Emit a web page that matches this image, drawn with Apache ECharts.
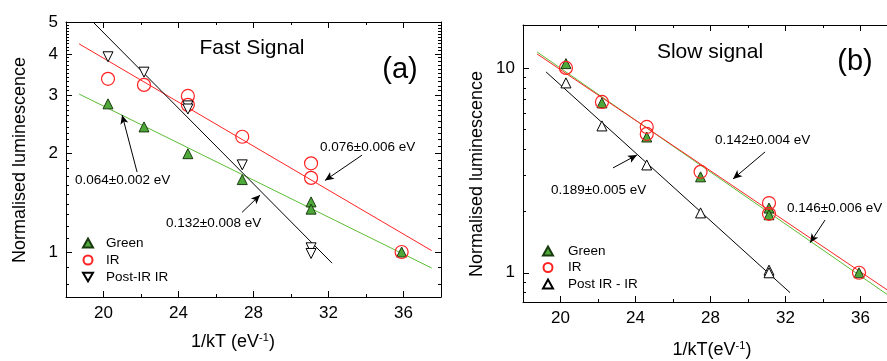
<!DOCTYPE html>
<html>
<head>
<meta charset="utf-8">
<script src="https://cdn.jsdelivr.net/npm/echarts@6/dist/echarts.min.js"></script>
<style>
html,body{margin:0;padding:0;background:#fff;}
#chart{width:887px;height:361px;}
</style>
</head>
<body>
<div id="chart"></div>
<script>
// ---------- tick values ----------
const xTicksMajor = [20, 24, 28, 32, 36];
const xTicksMinor = [18, 22, 26, 30, 34, 38];
const yTicksA = [1, 2, 3, 4, 5];
const yMinorA = [0.8, 0.9, 1.1, 1.2, 1.3, 1.4, 1.5, 1.6, 1.7, 1.8, 1.9,
  2.1, 2.2, 2.3, 2.4, 2.5, 2.6, 2.7, 2.8, 2.9,
  3.1, 3.2, 3.3, 3.4, 3.5, 3.6, 3.7, 3.8, 3.9,
  4.1, 4.2, 4.3, 4.4, 4.5, 4.6, 4.7, 4.8, 4.9];
const yTicksB = [1, 10];
const yMinorB = [0.8, 0.9, 2, 3, 4, 5, 6, 7, 8, 9];

// ---------- panel (a): Fast signal ----------
const aGreen = [[20.24, 2.82], [22.16, 2.40], [24.5, 1.99], [27.4, 1.66], [31.07, 1.42], [31.07, 1.35], [35.9, 1.0]];
const aIR = [[20.24, 3.36], [22.16, 3.22], [24.5, 2.98], [24.5, 2.80], [27.4, 2.24], [31.07, 1.86], [31.07, 1.68], [35.9, 1.0]];
const aPostIR = [[20.24, 3.92], [22.16, 3.52], [24.5, 2.78], [24.5, 2.72], [27.4, 1.84], [31.07, 1.03], [31.07, 0.99]];
const aFitGreen = [[18.7, 3.02], [37.5, 0.894]];
const aFitIR = [[18.7, 4.29], [37.5, 1.01]];
const aFitPost = [[19.44, 5.0], [32.19, 0.925]];

// ---------- panel (b): Slow signal ----------
const bGreen = [[20.29, 10.5], [22.21, 6.75], [24.6, 4.6], [27.47, 2.94], [31.12, 2.07], [31.12, 1.92], [35.92, 1.0]];
const bIR = [[20.29, 10.0], [22.21, 6.82], [24.6, 5.15], [24.6, 4.76], [27.47, 3.11], [31.12, 2.19], [31.12, 1.94], [35.92, 1.0]];
const bPostIR = [[20.29, 8.45], [22.21, 5.21], [24.6, 3.36], [27.47, 1.96], [31.12, 1.03], [31.12, 1.0]];
const bFitGreen = [[18.75, 11.97], [38.0, 0.72]];
const bFitIR = [[18.75, 11.7], [38.0, 0.76]];
const bFitPost = [[19.23, 9.56], [32.24, 0.80]];

// ---------- annotation arrows (data coords: tail, head) ----------
const aArrows = [
  [[21.79, 1.75], [20.99, 2.61]],
  [[33.79, 1.97], [31.81, 1.65]],
  [[27.39, 1.32], [28.35, 1.49]]
];
const bArrows = [
  [[30.91, 3.89], [29.2, 2.87]],
  [[22.8, 3.25], [24.08, 3.76]],
  [[34.11, 1.81], [33.31, 1.40]]
];

const FONT = 'Liberation Sans, Arial, sans-serif';
const RED = '#ff2222';
const GREEN_LINE = '#5cbd35';
const GREEN_FILL = '#4ea93a';

const chart = echarts.init(document.getElementById('chart'));

const grids = [
  {left: 66, top: 22, width: 375, height: 275},
  {left: 523, top: 25, width: 375, height: 277}
];
const yRange = [[0.73, 5], [0.72, 16.2]];
const yMajor = [yTicksA, yTicksB];
const yMinor = [yMinorA, yMinorB];

const xAxes = [], yAxes = [];
grids.forEach((g, gi) => {
  const base = {gridIndex: gi, type: 'value', min: 18, max: 38, splitLine: {show: false}, minorTick: {show: false}};
  xAxes.push(Object.assign({}, base, {
    position: 'bottom',
    axisLine: {show: true, onZero: false, lineStyle: {color: '#000', width: 1}},
    axisTick: {show: true, inside: true, length: 6, customValues: xTicksMajor, lineStyle: {color: '#000'}},
    axisLabel: {show: true, customValues: xTicksMajor, color: '#000', fontSize: 17, fontFamily: FONT, margin: 8}
  }));
  xAxes.push(Object.assign({}, base, {
    position: 'bottom',
    axisLine: {show: false, onZero: false},
    axisTick: {show: true, inside: true, length: 3, customValues: xTicksMinor, lineStyle: {color: '#000'}},
    axisLabel: {show: false}
  }));
  xAxes.push(Object.assign({}, base, {
    position: 'top',
    axisLine: {show: true, onZero: false, lineStyle: {color: '#000', width: 1}},
    axisTick: {show: true, inside: true, length: 6, customValues: xTicksMajor, lineStyle: {color: '#000'}},
    axisLabel: {show: false}
  }));
  xAxes.push(Object.assign({}, base, {
    position: 'top',
    axisLine: {show: false, onZero: false},
    axisTick: {show: true, inside: true, length: 3, customValues: xTicksMinor, lineStyle: {color: '#000'}},
    axisLabel: {show: false}
  }));

  const ybase = {gridIndex: gi, type: 'log', logBase: 10, min: yRange[gi][0], max: yRange[gi][1], splitLine: {show: false}, minorTick: {show: false}};
  yAxes.push(Object.assign({}, ybase, {
    position: 'left',
    axisLine: {show: true, onZero: false, lineStyle: {color: '#000', width: 1}},
    axisTick: {show: true, inside: true, length: 6, customValues: yMajor[gi], lineStyle: {color: '#000'}},
    axisLabel: {show: true, customValues: yMajor[gi], color: '#000', fontSize: 17, fontFamily: FONT, margin: 8}
  }));
  yAxes.push(Object.assign({}, ybase, {
    position: 'left',
    axisLine: {show: false, onZero: false},
    axisTick: {show: true, inside: true, length: 3, customValues: yMinor[gi], lineStyle: {color: '#000'}},
    axisLabel: {show: false}
  }));
  yAxes.push(Object.assign({}, ybase, {
    position: 'right',
    axisLine: {show: true, onZero: false, lineStyle: {color: '#000', width: 1}},
    axisTick: {show: true, inside: true, length: 6, customValues: yMajor[gi], lineStyle: {color: '#000'}},
    axisLabel: {show: false}
  }));
  yAxes.push(Object.assign({}, ybase, {
    position: 'right',
    axisLine: {show: false, onZero: false},
    axisTick: {show: true, inside: true, length: 3, customValues: yMinor[gi], lineStyle: {color: '#000'}},
    axisLabel: {show: false}
  }));
});

function fitLine(data, gi, color) {
  return {
    type: 'line', xAxisIndex: gi * 4, yAxisIndex: gi * 4, data: data,
    symbol: 'none', silent: true, z: 2, clip: true,
    lineStyle: {color: color, width: 1}
  };
}
function arrowSeries(arrows, gi) {
  return {
    type: 'line', xAxisIndex: gi * 4, yAxisIndex: gi * 4, data: [], silent: true, z: 3,
    markLine: {
      silent: true, symbol: ['none', 'arrow'], symbolSize: [6, 9],
      label: {show: false},
      lineStyle: {color: '#000', width: 1, type: 'solid'},
      emphasis: {disabled: true},
      data: arrows.map(a => [{coord: a[0]}, {coord: a[1]}])
    }
  };
}
function scatter(name, data, gi, sym, opts) {
  return Object.assign({
    type: 'scatter', name: name, xAxisIndex: gi * 4, yAxisIndex: gi * 4, data: data,
    symbol: sym, z: 5
  }, opts);
}

const greenStyle = {symbolSize: 10, itemStyle: {color: GREEN_FILL, borderColor: '#1a3a10', borderWidth: 1, opacity: 1}};
const irStyle = {symbolSize: 13, itemStyle: {color: 'rgba(255,255,255,0)', borderColor: RED, borderWidth: 1.2, opacity: 1}};
const postStyleA = {symbolSize: 10, symbolRotate: 180, itemStyle: {color: '#fff', borderColor: '#000', borderWidth: 1, opacity: 1}};
const postStyleB = {symbolSize: 10, itemStyle: {color: '#fff', borderColor: '#000', borderWidth: 1, opacity: 1}};

const series = [
  fitLine(aFitGreen, 0, GREEN_LINE),
  fitLine(aFitIR, 0, RED),
  fitLine(aFitPost, 0, '#000'),
  arrowSeries(aArrows, 0),
  scatter('Green', aGreen, 0, 'triangle', greenStyle),
  scatter('IR', aIR, 0, 'circle', irStyle),
  scatter('Post-IR IR', aPostIR, 0, 'triangle', postStyleA),

  fitLine(bFitGreen, 1, GREEN_LINE),
  fitLine(bFitIR, 1, RED),
  fitLine(bFitPost, 1, '#000'),
  arrowSeries(bArrows, 1),
  scatter('Green ', bGreen, 1, 'triangle', greenStyle),
  scatter('IR ', bIR, 1, 'circle', irStyle),
  scatter('Post IR - IR', bPostIR, 1, 'triangle', postStyleB)
];

const legendCommon = {
  orient: 'vertical', itemWidth: 10, itemHeight: 9, itemGap: 1, padding: 0,
  selectedMode: false,
  textStyle: {color: '#000', fontSize: 13.5, lineHeight: 16, fontFamily: FONT, padding: [0, 0, 0, 8]}
};

chart.setOption({
  animation: false,
  backgroundColor: '#fff',
  grid: grids.map(g => Object.assign({containLabel: false, outerBoundsMode: 'none'}, g)),
  xAxis: xAxes,
  yAxis: yAxes,
  legend: [
    Object.assign({}, legendCommon, {left: 82, top: 235, data: ['Green', {name: 'IR', icon: 'circle'},
      {name: 'Post-IR IR', icon: 'path://M0,0 L10,0 L5,8.66 Z'}]}),
    Object.assign({}, legendCommon, {left: 542, top: 243, itemGap: 0.5, data: ['Green ', 'IR ', 'Post IR - IR'],
      formatter: n => n.trim(), textStyle: Object.assign({}, legendCommon.textStyle, {padding: [0, 0, 0, 10]})})
  ],
  series: series,
  graphic: [
    {type: 'text', x: 252, y: 48, style: {text: 'Fast Signal', fontSize: 21, fontFamily: FONT, fill: '#000', align: 'center', verticalAlign: 'middle'}},
    {type: 'text', x: 400, y: 70, style: {text: '(a)', fontSize: 29, fontFamily: FONT, fill: '#000', align: 'center', verticalAlign: 'middle'}},
    {type: 'text', x: 75, y: 180, style: {text: '0.064\u00b10.002 eV', fontSize: 13.5, fontFamily: FONT, fill: '#000', verticalAlign: 'middle'}},
    {type: 'text', x: 320, y: 147, style: {text: '0.076\u00b10.006 eV', fontSize: 13.5, fontFamily: FONT, fill: '#000', verticalAlign: 'middle'}},
    {type: 'text', x: 166, y: 223, style: {text: '0.132\u00b10.008 eV', fontSize: 13.5, fontFamily: FONT, fill: '#000', verticalAlign: 'middle'}},
    {type: 'text', x: 710, y: 52, style: {text: 'Slow signal', fontSize: 21, fontFamily: FONT, fill: '#000', align: 'center', verticalAlign: 'middle'}},
    {type: 'text', x: 855, y: 62, style: {text: '(b)', fontSize: 29, fontFamily: FONT, fill: '#000', align: 'center', verticalAlign: 'middle'}},
    {type: 'text', x: 715, y: 140, style: {text: '0.142\u00b10.004 eV', fontSize: 13.5, fontFamily: FONT, fill: '#000', verticalAlign: 'middle'}},
    {type: 'text', x: 551, y: 190, style: {text: '0.189\u00b10.005 eV', fontSize: 13.5, fontFamily: FONT, fill: '#000', verticalAlign: 'middle'}},
    {type: 'text', x: 787, y: 208, style: {text: '0.146\u00b10.006 eV', fontSize: 13.5, fontFamily: FONT, fill: '#000', verticalAlign: 'middle'}},
    {type: 'text', x: 233, y: 342, style: {text: '1/kT (eV{sup|-1})', fontSize: 18, fontFamily: FONT, fill: '#000', align: 'center', verticalAlign: 'middle',
      rich: {sup: {fontSize: 11, fontFamily: FONT, fill: '#000', padding: [0, 0, 9, 0]}}}},
    {type: 'text', x: 712, y: 350, style: {text: '1/kT(eV{sup|-1})', fontSize: 18, fontFamily: FONT, fill: '#000', align: 'center', verticalAlign: 'middle',
      rich: {sup: {fontSize: 11, fontFamily: FONT, fill: '#000', padding: [0, 0, 9, 0]}}}},
    {type: 'text', x: 20, y: 160, rotation: Math.PI / 2, style: {text: 'Normalised luminescence', fontSize: 18, fontFamily: FONT, fill: '#000', align: 'center', verticalAlign: 'middle'}},
    {type: 'text', x: 477, y: 174, rotation: Math.PI / 2, style: {text: 'Normalised luminescence', fontSize: 18, fontFamily: FONT, fill: '#000', align: 'center', verticalAlign: 'middle'}}
  ]
});
</script>
</body>
</html>
